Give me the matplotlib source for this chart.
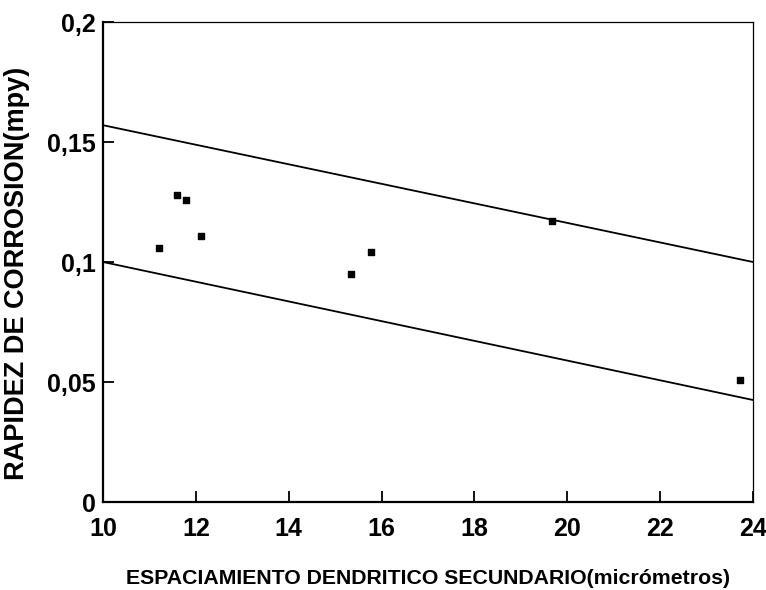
import matplotlib
matplotlib.use('Agg')
import matplotlib.pyplot as plt
from matplotlib import font_manager

# data
x_pts = [11.2, 11.6, 11.78, 12.1, 15.35, 15.78, 19.68, 23.72]
y_pts = [0.106, 0.128, 0.126, 0.111, 0.095, 0.104, 0.117, 0.051]

x_line = [10, 24]
upper = [0.157, 0.100]
lower = [0.100, 0.0425]

xticks = [10, 12, 14, 16, 18, 20, 22, 24]
yticks = [0, 0.05, 0.1, 0.15, 0.2]
ylabels = ['0', '0,05', '0,1', '0,15', '0,2']

names = {f.name for f in font_manager.fontManager.ttflist}
fam = ['Liberation Sans Narrow', 'DejaVu Sans'] if 'Liberation Sans Narrow' in names else ['Liberation Sans', 'DejaVu Sans']
plt.rcParams['font.family'] = fam

fig = plt.figure(figsize=(7.66, 5.90), dpi=100)
ax = fig.add_axes([103/766, 88/590, 650/766, 480/590])

ax.plot(x_line, upper, color='black', lw=1.3)
ax.plot(x_line, lower, color='black', lw=1.3)
ax.scatter(x_pts, y_pts, s=14, marker='s', color='black', zorder=3)

ax.set_xlim(10, 24)
ax.set_ylim(0, 0.2)
ax.set_xticks(xticks)
ax.set_xticklabels([str(t) for t in xticks])
ax.set_yticks(yticks)
ax.set_yticklabels(ylabels)
ax.tick_params(direction='in', length=8, width=1.3, labelsize=18)
ax.tick_params(axis='x', pad=11)
ax.tick_params(axis='y', pad=5)
for lbl in ax.get_xticklabels() + ax.get_yticklabels():
    lbl.set_fontweight('bold')
ax.spines['left'].set_linewidth(1.6)
ax.spines['bottom'].set_linewidth(1.6)
ax.spines['top'].set_linewidth(0.9)
ax.spines['right'].set_linewidth(0.9)

ax.set_xlabel('ESPACIAMIENTO DENDRITICO SECUNDARIO(micrómetros)', fontsize=15.3,
              fontweight='bold', labelpad=20)
ax.set_ylabel('RAPIDEZ DE CORROSION(mpy)', fontsize=19.5, fontweight='bold')
ax.yaxis.set_label_coords(-0.112, 0.477)

fig.savefig('out.png', dpi=100)
